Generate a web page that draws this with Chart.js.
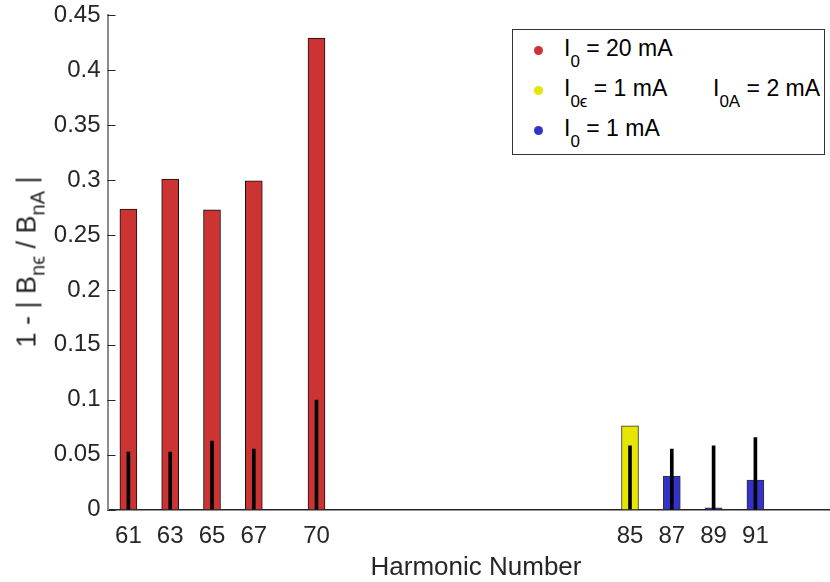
<!DOCTYPE html>
<html>
<head>
<meta charset="utf-8">
<script src="https://cdn.jsdelivr.net/npm/chart.js@4"></script>
<style>
  html, body { margin: 0; padding: 0; background: #fff; overflow: hidden; }
  body { width: 830px; height: 582px; position: relative; font-family: "Liberation Sans", Arial, Helvetica, sans-serif; color: #262626; }
  #wrap { position: absolute; left: 0; top: -6px; width: 839px; height: 588px; }
  .ytitle { position: absolute; left: 28px; top: 262px; transform: translate(-50%, -50%) rotate(-90deg); font-size: 27px; line-height: 27px; white-space: nowrap; }
  .xtitle { position: absolute; left: 476px; top: 553px; transform: translateX(-50%); font-size: 26px; line-height: 26px; white-space: nowrap; }
  .sub { position: relative; top: 9px; font-size: 20px; }
  #legend { position: absolute; left: 512px; top: 29px; width: 311px; height: 124px; border: 1px solid #333; background: #fff; font-size: 23px; color: #000; }
  .row { position: absolute; left: 0; height: 24px; line-height: 24px; white-space: nowrap; }
  .dot { position: absolute; left: 21px; top: 10px; width: 9px; height: 9px; border-radius: 50%; }
  .lbl { position: absolute; left: 51px; top: 0; }
  .lsub { position: relative; top: 11px; font-size: 17px; }
</style>
</head>
<body>
<div id="wrap"><canvas id="chart"></canvas></div>
<div class="ytitle">1 - | B<span class="sub">n&#x3F5;</span> / B<span class="sub">nA</span> |</div>
<div class="xtitle">Harmonic Number</div>
<div id="legend">
  <div class="row" style="top:6px"><div class="dot" style="background:#cc3333"></div><div class="lbl">I<span class="lsub">0</span> = 20 mA</div></div>
  <div class="row" style="top:46px"><div class="dot" style="background:#e6e600"></div><div class="lbl">I<span class="lsub">0&#x3F5;</span> = 1 mA</div><div class="lbl" style="left:200px">I<span class="lsub">0A</span> = 2 mA</div></div>
  <div class="row" style="top:86px"><div class="dot" style="background:#3333cc"></div><div class="lbl">I<span class="lsub">0</span> = 1 mA</div></div>
</div>
<script>
// harmonic numbers and measured 1 - |Bn_eps / Bn_A|
const harmonics20mA = [61, 63, 65, 67, 70];
const ratio20mA = [0.2735, 0.301, 0.273, 0.2994, 0.4293];
const harmonicsMixed = [85];
const ratioMixed = [0.0763];
const harmonics1mA = [87, 89, 91];
const ratio1mA = [0.0305, 0.0015, 0.0269];
const errHarmonics = [61, 63, 65, 67, 70, 85, 87, 89, 91];
const errValues = [0.0524, 0.0524, 0.0624, 0.0551, 0.0997, 0.0581, 0.0551, 0.0581, 0.0654];

const xTicks = [61, 63, 65, 67, 70, 85, 87, 89, 91];
const yTicks = [0, 0.05, 0.1, 0.15, 0.2, 0.25, 0.3, 0.35, 0.4, 0.45];

const toPoints = (xs, ys) => xs.map((x, i) => ({ x: x, y: ys[i] }));

const innerTicks = {
  id: "innerTicks",
  beforeDatasetsDraw(chart) {
    const { ctx, chartArea, scales } = chart;
    ctx.save();
    ctx.strokeStyle = "#262626";
    ctx.lineWidth = 1;
    scales.y.ticks.forEach((t) => {
      const py = Math.round(scales.y.getPixelForValue(t.value)) + 0.5;
      ctx.beginPath();
      ctx.moveTo(chartArea.left, py);
      ctx.lineTo(chartArea.left + 8, py);
      ctx.stroke();
    });
    scales.x.ticks.forEach((t) => {
      const px = Math.round(scales.x.getPixelForValue(t.value)) + 0.5;
      ctx.beginPath();
      ctx.moveTo(px, chartArea.bottom);
      ctx.lineTo(px, chartArea.bottom - 8);
      ctx.stroke();
    });
    ctx.restore();
  },
};

new Chart(document.getElementById("chart").getContext("2d"), {
  type: "bar",
  data: {
    datasets: [
      {
        label: "error",
        data: errHarmonics.map((x, i) => ({ x: x, y: [0, errValues[i]] })),
        backgroundColor: "#000000",
        borderWidth: 0,
        barThickness: 3,
        grouped: false,
        order: 0,
      },
      {
        label: "I0 = 20 mA",
        data: toPoints(harmonics20mA, ratio20mA),
        backgroundColor: "#cc3333",
        borderColor: "#111111",
        borderWidth: 1,
        barThickness: 17,
        grouped: false,
        order: 1,
      },
      {
        label: "I0e = 1 mA",
        data: toPoints(harmonicsMixed, ratioMixed),
        backgroundColor: "#e6e600",
        borderColor: "#333333",
        borderWidth: 1,
        barThickness: 17,
        grouped: false,
        order: 1,
      },
      {
        label: "I0 = 1 mA",
        data: toPoints(harmonics1mA, ratio1mA),
        backgroundColor: "#3333cc",
        borderColor: "#333333",
        borderWidth: 1,
        barThickness: 17,
        grouped: false,
        order: 1,
      },
    ],
  },
  options: {
    responsive: true,
    maintainAspectRatio: false,
    animation: false,
    layout: { padding: { top: 0, right: 0, left: 0, bottom: 0 } },
    plugins: { legend: { display: false }, tooltip: { enabled: false } },
    scales: {
      x: {
        type: "linear",
        min: 60,
        max: 95,
        offset: false,
        grid: { display: false, drawTicks: false },
        border: { display: true, color: "#262626", width: 1.5 },
        afterBuildTicks: (scale) => {
          scale.ticks = xTicks.map((v) => ({ value: v }));
        },
        afterFit: (scale) => {
          scale.height = 72.5;
        },
        ticks: {
          autoSkip: false,
          maxRotation: 0,
          padding: 12,
          color: "#262626",
          font: { family: "'Liberation Sans', Arial, sans-serif", size: 24 },
          callback: (v) => String(v),
        },
      },
      y: {
        min: 0,
        max: 0.45,
        grid: { display: false, drawTicks: false },
        border: { display: true, color: "#8c8c8c", width: 2 },
        afterBuildTicks: (scale) => {
          scale.ticks = yTicks.map((v) => ({ value: v }));
        },
        afterFit: (scale) => {
          scale.width = 107.5;
        },
        ticks: {
          padding: 7,
          color: "#262626",
          font: { family: "'Liberation Sans', Arial, sans-serif", size: 24 },
          callback: (v) => String(Number(v.toFixed(2))),
        },
      },
    },
  },
  plugins: [innerTicks],
});
</script>
</body>
</html>
